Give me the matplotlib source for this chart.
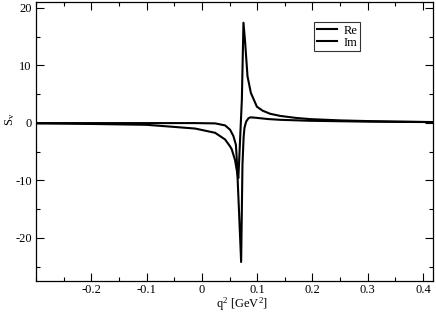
import matplotlib
matplotlib.use('Agg')
import matplotlib.pyplot as plt
from matplotlib.ticker import MultipleLocator

plt.rcParams['font.family'] = ['Liberation Serif', 'DejaVu Serif']
plt.rcParams['mathtext.fontset'] = 'custom'
plt.rcParams['mathtext.rm'] = 'Liberation Serif'
plt.rcParams['mathtext.default'] = 'regular'

# valores
q_re = [-0.30, -0.20, -0.10, -0.06, -0.012, 0.024, 0.042, 0.051, 0.054, 0.060,
        0.065, 0.066, 0.0723, 0.0752, 0.0783, 0.0825, 0.0886, 0.0995, 0.11,
        0.1235, 0.1416, 0.17, 0.196, 0.25, 0.30, 0.35, 0.418]
s_re = [-0.10, -0.20, -0.35, -0.64, -1.0, -1.74, -2.9, -4.1, -4.6, -6.5,
        -9.3, -9.6, 4.0, 17.4, 13.9, 8.1, 5.2, 2.8, 2.1,
        1.57, 1.2, 0.85, 0.64, 0.42, 0.30, 0.22, 0.13]

q_im = [-0.30, -0.20, -0.10, -0.012, 0.024, 0.042, 0.051, 0.057, 0.0615, 0.063,
        0.067, 0.071, 0.0734, 0.0755, 0.077, 0.080, 0.0843, 0.088, 0.095,
        0.11, 0.12, 0.1416, 0.196, 0.30, 0.418]
s_im = [-0.05, -0.05, -0.05, -0.05, -0.10, -0.45, -1.2, -2.3, -3.8, -6.1,
        -15.0, -24.2, -7.3, -2.5, -0.9, 0.2, 0.8, 0.95, 0.9,
        0.75, 0.65, 0.52, 0.35, 0.20, 0.12]

fig = plt.figure(figsize=(4.36, 3.12), dpi=100)
ax = fig.add_axes([36 / 436, 1 - 281 / 312, 397 / 436, 279 / 312])

ax.plot(q_re, s_re, color='black', lw=1.5, label='Re')
ax.plot(q_im, s_im, color='black', lw=1.5, label='Im')

ax.set_xlim(-0.3, 0.418)
ax.set_ylim(-27.5, 21)
ax.xaxis.set_minor_locator(MultipleLocator(0.05))
ax.yaxis.set_minor_locator(MultipleLocator(5))
ax.set_xticks([-0.2, -0.1, 0, 0.1, 0.2, 0.3, 0.4])
ax.set_xticklabels(['-0.2', '-0.1', '0', '0.1', '0.2', '0.3', '0.4'])
ax.set_yticks([-20, -10, 0, 10, 20])
ax.set_yticklabels(['-20', '-10', '0', '10', '20'])
ax.tick_params(which='both', direction='in', top=True, right=True,
               labelsize=9, width=0.8)
ax.tick_params(which='major', length=5.5)
ax.tick_params(axis='x', which='major', pad=2)
ax.tick_params(axis='y', which='major', pad=3)
ax.tick_params(which='minor', length=3)
for s in ax.spines.values():
    s.set_linewidth(0.9)

ax.set_xlabel(r'q$^2$ [GeV$^2$]', fontsize=9)
ax.set_ylabel(r'S$_v$', fontsize=9)
ax.xaxis.set_label_coords(0.52, -0.052)
ax.yaxis.set_label_coords(-0.048, 0.58)

leg = ax.legend(loc='upper left', bbox_to_anchor=((314 - 36) / 397, 1 - 20 / 279),
                fontsize=9, frameon=True, fancybox=False, handlelength=1.6,
                handletextpad=0.6, borderpad=0.2, labelspacing=0.0,
                borderaxespad=0.0)
leg.get_frame().set_edgecolor('black')
leg.get_frame().set_linewidth(0.8)

fig.savefig('out.png', dpi=100)
